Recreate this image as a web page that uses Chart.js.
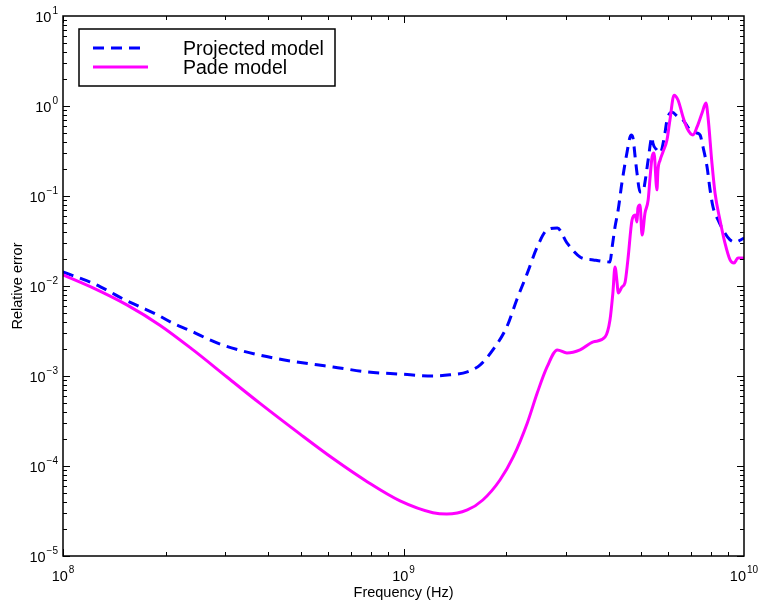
<!DOCTYPE html>
<html>
<head>
<meta charset="utf-8">
<script src="https://cdn.jsdelivr.net/npm/chart.js@4/dist/chart.umd.min.js"></script>
<style>
  html, body { margin: 0; padding: 0; background: #fff; }
  #wrap { width: 760px; height: 608px; position: relative; }
</style>
</head>
<body>
<div id="wrap"><canvas id="c"></canvas></div>
<script>
const FONT = "'Liberation Sans', Arial, Helvetica, sans-serif";

// Projected model (blue dashed)
const projFreq = [1.00e8, 1.22e8, 1.36e8, 1.50e8, 1.68e8, 1.89e8, 2.09e8, 2.36e8, 2.65e8, 2.95e8,
  3.36e8, 3.79e8, 4.28e8, 4.86e8, 5.57e8, 6.21e8, 7.82e8, 9.77e8, 1.22e9, 1.37e9,
  1.54e9, 1.68e9, 1.83e9, 2.01e9, 2.15e9, 2.31e9, 2.47e9, 2.64e9, 2.83e9, 3.02e9,
  3.30e9, 3.61e9, 4.04e9, 4.10e9, 4.18e9, 4.27e9, 4.38e9, 4.53e9, 4.66e9, 4.72e9,
  4.79e9, 4.85e9, 4.95e9, 5.05e9, 5.12e9, 5.23e9, 5.37e9, 5.40e9, 5.55e9, 5.67e9,
  5.86e9, 5.94e9, 6.15e9, 6.40e9, 6.62e9, 6.94e9, 7.28e9, 7.43e9, 7.58e9, 7.79e9,
  7.95e9, 8.11e9, 8.39e9, 8.68e9, 9.10e9, 9.41e9, 1.0e10];
const projErr = [0.0143, 0.0108, 0.0088, 0.0072, 0.0059, 0.0048, 0.0039, 0.0032, 0.0026, 0.0022,
  0.0019, 0.0017, 0.00155, 0.00143, 0.00133, 0.00126, 0.00111, 0.00105, 0.00100, 0.00103,
  0.00111, 0.00133, 0.00195, 0.0035, 0.0070, 0.0139, 0.0271, 0.0419, 0.0441, 0.0301,
  0.0210, 0.0195, 0.0185, 0.0271, 0.0452, 0.0699, 0.140, 0.301, 0.476, 0.441,
  0.271, 0.180, 0.111, 0.111, 0.143, 0.251, 0.452, 0.388, 0.325, 0.301,
  0.501, 0.699, 0.85, 0.755, 0.699, 0.541, 0.501, 0.476, 0.350, 0.210,
  0.117, 0.0755, 0.0541, 0.0419, 0.0325, 0.0308, 0.0341];

// Pade model (magenta solid)
const padeFreq = [1.00e8, 1.225e8, 1.54e8, 1.93e8, 2.41e8, 3.03e8, 3.79e8, 4.97e8, 6.21e8,
  7.82e8, 9.77e8, 1.22e9, 1.34e9, 1.54e9, 1.71e9, 1.92e9, 2.10e9, 2.31e9, 2.47e9,
  2.64e9, 2.83e9, 3.02e9, 3.30e9, 3.61e9, 3.91e9, 4.04e9, 4.12e9, 4.18e9, 4.24e9,
  4.27e9, 4.38e9, 4.47e9, 4.56e9, 4.69e9, 4.79e9, 4.85e9, 4.88e9, 4.95e9, 5.02e9,
  5.12e9, 5.23e9, 5.30e9, 5.37e9, 5.44e9, 5.55e9, 5.59e9, 5.67e9, 5.78e9, 5.94e9,
  6.06e9, 6.23e9, 6.40e9, 6.62e9, 6.80e9, 7.08e9, 7.28e9, 7.53e9, 7.73e9, 7.84e9,
  8.05e9, 8.22e9, 8.50e9, 8.79e9, 9.10e9, 9.35e9, 9.60e9, 9.93e9, 1.0e10];
const padeErr = [0.0133, 0.00953, 0.00617, 0.00365, 0.00195, 9.75e-4, 4.96e-4, 2.26e-4, 1.21e-4,
  6.70e-5, 4.10e-5, 3.03e-5, 2.92e-5, 3.25e-5, 4.19e-5, 6.99e-5, 1.26e-4, 3.01e-4, 6.47e-4,
  0.00126, 0.00195, 0.00180, 0.00195, 0.00239, 0.00272, 0.00419, 0.00836, 0.0163, 0.0108,
  0.00836, 0.00975, 0.0108, 0.0195, 0.0541, 0.0615, 0.0514, 0.0736, 0.0794, 0.0369,
  0.0647, 0.0903, 0.163, 0.271, 0.301, 0.117, 0.195, 0.251, 0.308, 0.419,
  0.699, 1.32, 1.166, 0.755, 0.570, 0.476, 0.585, 0.836, 1.08, 0.755,
  0.233, 0.108, 0.0541, 0.0301, 0.0195, 0.0180, 0.0205, 0.0205, 0.0200];

const xTickExps = [8, 9, 10];
const yTickExps = [-5, -4, -3, -2, -1, 0, 1];
const xTitle = 'Frequency (Hz)';
const yTitle = 'Relative error';

function pts(xs, ys) { return xs.map((x, i) => ({ x: x, y: ys[i] })); }

function drawPow(ctx, x, y, exp, align) {
  // "10" with superscript exponent; align: 'right' (ends at x) or 'center'
  ctx.font = '14.5px ' + FONT;
  const wb = ctx.measureText('10').width;
  ctx.font = '10px ' + FONT;
  const e = String(exp).replace('-', '\u2212');
  const we = ctx.measureText(e).width;
  let x0 = align === 'right' ? x - wb - we - 1 : x - (wb + we + 1) / 2;
  ctx.textAlign = 'left';
  ctx.textBaseline = 'alphabetic';
  ctx.font = '14.5px ' + FONT;
  ctx.fillText('10', x0, y);
  ctx.font = '10px ' + FONT;
  ctx.fillText(e, x0 + wb + 1, y - 8);
}

const axesPlugin = {
  id: 'matlabAxes',
  afterDraw(chart) {
    const ctx = chart.ctx, a = chart.chartArea;
    const xs = chart.scales.x, ys = chart.scales.y;
    ctx.save();
    ctx.strokeStyle = '#000';
    ctx.fillStyle = '#000';
    ctx.lineWidth = 1;
    ctx.beginPath();
    // minor + major ticks, pointing inward on all four sides
    for (let d = xTickExps[0]; d < xTickExps[xTickExps.length - 1]; d++) {
      for (let m = 1; m <= 9; m++) {
        const px = Math.round(xs.getPixelForValue(m * Math.pow(10, d))) + 0.5;
        const len = m === 1 ? 7 : 4;
        ctx.moveTo(px, a.bottom); ctx.lineTo(px, a.bottom - len);
        ctx.moveTo(px, a.top); ctx.lineTo(px, a.top + len);
      }
    }
    for (let d = yTickExps[0]; d < yTickExps[yTickExps.length - 1]; d++) {
      for (let m = 1; m <= 9; m++) {
        const py = Math.round(ys.getPixelForValue(m * Math.pow(10, d))) + 0.5;
        const len = m === 1 ? 7 : 4;
        ctx.moveTo(a.left, py); ctx.lineTo(a.left + len, py);
        ctx.moveTo(a.right, py); ctx.lineTo(a.right - len, py);
      }
    }
    ctx.stroke();
    ctx.lineWidth = 1.5;
    ctx.strokeRect(a.left, a.top, a.right - a.left, a.bottom - a.top);

    xTickExps.forEach(e => {
      const px = xs.getPixelForValue(Math.pow(10, e));
      drawPow(ctx, px, a.bottom + 25, e, 'center');
    });
    yTickExps.forEach(e => {
      const py = ys.getPixelForValue(Math.pow(10, e));
      drawPow(ctx, a.left - 5, py + 6, e, 'right');
    });

    ctx.font = '14.5px ' + FONT;
    ctx.textAlign = 'center';
    ctx.textBaseline = 'middle';
    ctx.fillText(xTitle, (a.left + a.right) / 2, a.bottom + 37);
    ctx.save();
    ctx.translate(18, (a.top + a.bottom) / 2);
    ctx.rotate(-Math.PI / 2);
    ctx.fillText(yTitle, 0, 0);
    ctx.restore();

    // legend box
    const bx = a.left + 16, by = a.top + 13, bw = 256, bh = 57;
    ctx.fillStyle = '#fff';
    ctx.fillRect(bx, by, bw, bh);
    ctx.lineWidth = 1.5;
    ctx.strokeRect(bx, by, bw, bh);
    chart.data.datasets.forEach((ds, i) => {
      const ly = by + 19 + i * 19;
      ctx.strokeStyle = ds.borderColor;
      ctx.lineWidth = ds.borderWidth;
      ctx.setLineDash(ds.borderDash || []);
      ctx.beginPath();
      ctx.moveTo(bx + 14, ly); ctx.lineTo(bx + (ds.borderDash ? 61 : 69), ly);
      ctx.stroke();
      ctx.setLineDash([]);
      ctx.fillStyle = '#000';
      ctx.font = '19.5px ' + FONT;
      ctx.textAlign = 'left';
      ctx.textBaseline = 'alphabetic';
      ctx.fillText(ds.label, bx + 104, ly + 7);
    });
    ctx.restore();
  }
};

new Chart(document.getElementById('c'), {
  type: 'line',
  data: {
    datasets: [
      { label: 'Projected model', data: pts(projFreq, projErr), borderColor: '#0000ff', borderWidth: 3, borderDash: [11, 7], pointRadius: 0, fill: false, cubicInterpolationMode: 'monotone', order: 1 },
      { label: 'Pade model', data: pts(padeFreq, padeErr), borderColor: '#ff00ff', borderWidth: 3, pointRadius: 0, fill: false, cubicInterpolationMode: 'monotone', order: 0 }
    ]
  },
  options: {
    responsive: true, maintainAspectRatio: false, animation: false,
    layout: { padding: { left: 63, top: 16, right: 16, bottom: 52 } },
    plugins: { legend: { display: false }, tooltip: { enabled: false } },
    scales: {
      x: { type: 'logarithmic', min: 1e8, max: 1e10, display: false },
      y: { type: 'logarithmic', min: 1e-5, max: 1e1, display: false }
    }
  },
  plugins: [axesPlugin]
});
</script>
</body>
</html>
